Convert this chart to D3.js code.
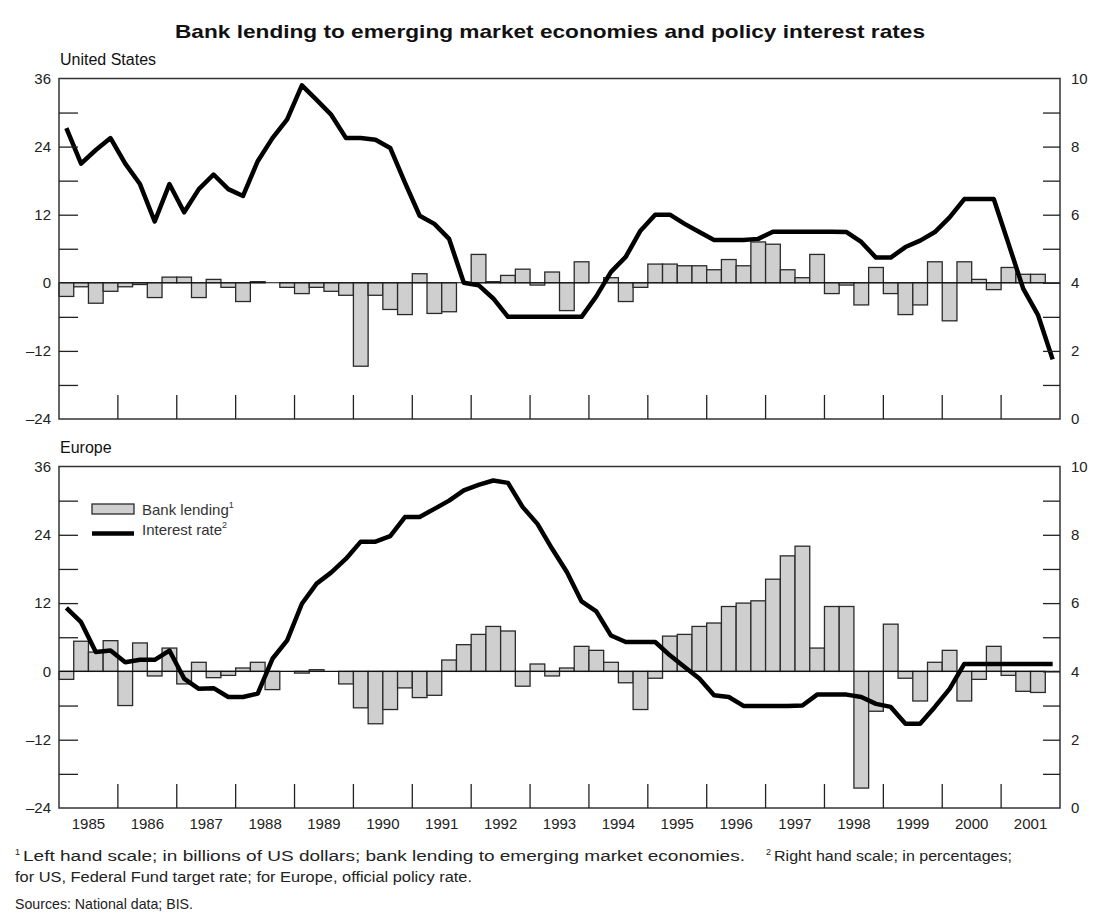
<!DOCTYPE html>
<html>
<head>
<meta charset="utf-8">
<script src="https://cdn.jsdelivr.net/npm/d3@7"></script>
<style>
  html, body { margin: 0; padding: 0; background: #fff; }
  svg { display: block; font-family: "Liberation Sans", Arial, sans-serif; }
</style>
</head>
<body>
<svg id="chart" width="1094" height="920"></svg>
<script>
// ---------------- DATA ----------------
const years = [1985, 1986, 1987, 1988, 1989, 1990, 1991, 1992, 1993, 1994, 1995, 1996, 1997, 1998, 1999, 2000, 2001];
const quarterNames = ["Q1", "Q2", "Q3", "Q4"];

// Bank lending to emerging market economies, billions of US dollars (left scale), 1985Q1 - 2001Q3
const usLending = [-2.4, -0.7, -3.6, -1.5, -0.7, -0.3, -2.6, 1.0, 1.0, -2.6, 0.6, -0.8, -3.3, 0.2, 0, -0.8,
  -1.9, -0.8, -1.5, -2.2, -14.7, -2.2, -4.7, -5.6, 1.6, -5.4, -5.1, 0, 5.0, 0.2, 1.3, 2.4,
  -0.4, 1.9, -4.9, 3.7, 0, 0.9, -3.3, -0.8, 3.3, 3.3, 3.0, 3.0, 2.3, 4.1, 3.0, 7.2,
  6.8, 2.3, 0.9, 5.0, -1.9, -0.4, -3.9, 2.7, -1.9, -5.6, -3.9, 3.7, -6.7, 3.7, 0.6, -1.2,
  2.7, 1.5, 1.5];
const euLending = [-1.4, 5.3, 3.4, 5.4, -6.0, 5.0, -0.8, 4.1, -2.2, 1.6, -1.1, -0.7, 0.6, 1.6, -3.2, 0,
  -0.3, 0.3, 0, -2.2, -6.4, -9.2, -6.7, -2.9, -4.6, -4.2, 2.0, 4.7, 6.5, 7.9, 7.1, -2.6,
  1.3, -0.8, 0.6, 4.4, 3.7, 1.6, -2.0, -6.7, -1.2, 6.2, 6.5, 7.9, 8.5, 11.4, 12.0, 12.4,
  16.2, 20.3, 22.0, 4.1, 11.4, 11.4, -20.5, -7.0, 8.3, -1.2, -5.2, 1.6, 3.7, -5.2, -1.4, 4.4,
  -0.7, -3.5, -3.7];

// Policy interest rates, percent (right scale), 1985Q1 - 2001Q4
const usRate = [8.54, 7.5, 7.9, 8.25, 7.5, 6.9, 5.8, 6.9, 6.07, 6.75, 7.18, 6.75, 6.55, 7.57, 8.25, 8.8,
  9.8, 9.37, 8.93, 8.25, 8.25, 8.2, 7.96, 6.94, 5.97, 5.73, 5.29, 4.0, 3.93, 3.54, 3.0, 3.0,
  3.0, 3.0, 3.0, 3.0, 3.6, 4.32, 4.76, 5.53, 6.0, 6.0, 5.73, 5.49, 5.26, 5.26, 5.26, 5.29,
  5.5, 5.5, 5.5, 5.5, 5.5, 5.49, 5.2, 4.74, 4.74, 5.05, 5.24, 5.49, 5.92, 6.46, 6.46, 6.46,
  5.15, 3.83, 3.06, 1.75];
const euRate = [5.86, 5.44, 4.57, 4.61, 4.27, 4.34, 4.34, 4.61, 3.79, 3.49, 3.51, 3.25, 3.25, 3.35, 4.37, 4.91,
  5.98, 6.57, 6.9, 7.3, 7.8, 7.8, 7.96, 8.52, 8.52, 8.76, 9.0, 9.3, 9.46, 9.59, 9.52, 8.81,
  8.32, 7.59, 6.91, 6.05, 5.76, 5.05, 4.86, 4.86, 4.86, 4.47, 4.13, 3.79, 3.3, 3.25, 2.99, 2.99,
  2.99, 2.99, 3.0, 3.32, 3.32, 3.32, 3.25, 3.05, 2.96, 2.47, 2.47, 2.96, 3.49, 4.22, 4.22, 4.22,
  4.22, 4.22, 4.22, 4.22];

const leftTicks = [36, 24, 12, 0, -12, -24];
const leftMinorTicks = [30, 24, 18, 12, 6, -6, -12, -18];
const rightTicks = [10, 8, 6, 4, 2, 0];

const titleText = "Bank lending to emerging market economies and policy interest rates";
const panelNames = ["United States", "Europe"];
const legendLabels = ["Bank lending", "Interest rate"];
const footnote1 = "Left hand scale; in billions of US dollars; bank lending to emerging market economies.";
const footnote2 = "Right hand scale; in percentages;";
const footnote2b = "for US, Federal Fund target rate; for Europe, official policy rate.";
const sourcesText = "Sources: National data; BIS.";

// ---------------- LAYOUT ----------------
const svg = d3.select("#chart");
const plotLeft = 59, plotRight = 1060;
const labelFont = 15;
const panels = [
  { name: panelNames[0], top: 78.5, bottom: 419, lending: usLending, rate: usRate, legend: false, yearLabels: false },
  { name: panelNames[1], top: 466.5, bottom: 808, lending: euLending, rate: euRate, legend: true, yearLabels: true }
];

const quarters = [];
years.forEach(y => quarterNames.forEach(q => quarters.push(y + q)));

const x = d3.scaleBand().domain(quarters).range([plotLeft, plotRight]).paddingInner(0).paddingOuter(0);
const xYear = d3.scaleBand().domain(years).range([plotLeft, plotRight]);

svg.append("text")
  .attr("x", 550).attr("y", 38)
  .attr("text-anchor", "middle")
  .attr("font-weight", "bold")
  .attr("font-size", 19)
  .attr("textLength", 750)
  .attr("lengthAdjust", "spacingAndGlyphs")
  .attr("fill", "#111")
  .text(titleText);

panels.forEach(p => {
  const g = svg.append("g");
  const yL = d3.scaleLinear().domain([-24, 36]).range([p.bottom, p.top]);
  const yR = d3.scaleLinear().domain([0, 10]).range([p.bottom, p.top]);

  // panel name
  g.append("text").attr("x", 60).attr("y", p.top - 14)
    .attr("font-size", 16).attr("fill", "#111").text(p.name);

  // bars
  g.selectAll("rect.bar").data(p.lending).enter().append("rect")
    .attr("class", "bar")
    .attr("x", (d, i) => x(quarters[i]))
    .attr("width", x.bandwidth())
    .attr("y", d => Math.min(yL(d), yL(0)))
    .attr("height", d => Math.abs(yL(d) - yL(0)))
    .attr("fill", "#cfcfcf")
    .attr("stroke", "#2a2a2a")
    .attr("stroke-width", 1.3);

  // zero line
  g.append("line")
    .attr("x1", plotLeft).attr("x2", plotRight)
    .attr("y1", yL(0)).attr("y2", yL(0))
    .attr("stroke", "#111").attr("stroke-width", 1.1);

  // rate line
  const line = d3.line()
    .x((d, i) => x(quarters[i]) + x.bandwidth() / 2)
    .y(d => yR(d));
  g.append("path").datum(p.rate)
    .attr("d", line)
    .attr("fill", "none")
    .attr("stroke", "#000")
    .attr("stroke-width", 4.5)
    .attr("stroke-linejoin", "round");

  // frame
  g.append("rect")
    .attr("x", plotLeft).attr("y", p.top)
    .attr("width", plotRight - plotLeft).attr("height", p.bottom - p.top)
    .attr("fill", "none").attr("stroke", "#333").attr("stroke-width", 1.5);

  // left inner ticks
  const leftAxis = d3.axisRight(yL).tickValues(leftMinorTicks).tickSize(19).tickFormat("");
  g.append("g").attr("transform", `translate(${plotLeft},0)`).call(leftAxis)
    .call(a => a.select(".domain").remove())
    .call(a => a.selectAll("line").attr("stroke", "#222").attr("stroke-width", 1.3));
  // right inner ticks
  const rightAxis = d3.axisLeft(yR).tickValues(d3.range(1, 10)).tickSize(17).tickFormat("");
  g.append("g").attr("transform", `translate(${plotRight},0)`).call(rightAxis)
    .call(a => a.select(".domain").remove())
    .call(a => a.selectAll("line").attr("stroke", "#222").attr("stroke-width", 1.3));

  // left labels
  const leftLab = d3.axisLeft(yL).tickValues(leftTicks).tickSize(0).tickPadding(8)
    .tickFormat(d => d < 0 ? "\u2013" + Math.abs(d) : d);
  g.append("g").attr("transform", `translate(${plotLeft},0)`).call(leftLab)
    .call(a => a.select(".domain").remove())
    .call(a => a.selectAll("text").attr("font-size", labelFont).attr("fill", "#222")
      .attr("font-family", "Liberation Sans, Arial, sans-serif"));
  // right labels
  const rightLab = d3.axisRight(yR).tickValues(rightTicks).tickSize(0).tickPadding(11);
  g.append("g").attr("transform", `translate(${plotRight},0)`).call(rightLab)
    .call(a => a.select(".domain").remove())
    .call(a => a.selectAll("text").attr("font-size", labelFont).attr("fill", "#222")
      .attr("font-family", "Liberation Sans, Arial, sans-serif"));

  // year ticks
  const yearBoundaries = years.slice(1);
  g.selectAll("line.yt").data(yearBoundaries).enter().append("line")
    .attr("x1", d => xYear(d)).attr("x2", d => xYear(d))
    .attr("y1", p.bottom).attr("y2", p.bottom - 24)
    .attr("stroke", "#222").attr("stroke-width", 1.3);

  if (p.yearLabels) {
    g.selectAll("text.yl").data(years).enter().append("text")
      .attr("x", d => xYear(d) + xYear.bandwidth() / 2)
      .attr("y", p.bottom + 21)
      .attr("text-anchor", "middle")
      .attr("font-size", labelFont).attr("fill", "#222")
      .text(d => d);
  }

  if (p.legend) {
    const lg = g.append("g");
    lg.append("rect").attr("x", 92).attr("y", 504).attr("width", 42).attr("height", 10)
      .attr("fill", "#cfcfcf").attr("stroke", "#2a2a2a").attr("stroke-width", 1.3);
    lg.append("line").attr("x1", 92).attr("x2", 134).attr("y1", 533.5).attr("y2", 533.5)
      .attr("stroke", "#000").attr("stroke-width", 4.5);
    const t1 = lg.append("text").attr("x", 142).attr("y", 515).attr("font-size", 15).attr("fill", "#333");
    t1.append("tspan").text(legendLabels[0]);
    t1.append("tspan").attr("font-size", 9).attr("dy", -7).text("1");
    const t2 = lg.append("text").attr("x", 142).attr("y", 535).attr("font-size", 15).attr("fill", "#333");
    t2.append("tspan").text(legendLabels[1]);
    t2.append("tspan").attr("font-size", 9).attr("dy", -7).text("2");
  }
});

// footnotes
const fn = svg.append("g").attr("font-size", 15.5).attr("fill", "#222");
fn.append("text").attr("x", 15).attr("y", 855).attr("font-size", 9).text("1");
fn.append("text").attr("x", 23).attr("y", 861).attr("textLength", 722).attr("lengthAdjust", "spacingAndGlyphs").text(footnote1);
fn.append("text").attr("x", 766).attr("y", 855).attr("font-size", 9).text("2");
fn.append("text").attr("x", 774).attr("y", 861).attr("textLength", 238).attr("lengthAdjust", "spacingAndGlyphs").text(footnote2);
fn.append("text").attr("x", 15).attr("y", 882).attr("textLength", 457).attr("lengthAdjust", "spacingAndGlyphs").text(footnote2b);
fn.append("text").attr("x", 15).attr("y", 909).attr("font-size", 15).attr("textLength", 178).attr("lengthAdjust", "spacingAndGlyphs").text(sourcesText);
</script>
</body>
</html>
